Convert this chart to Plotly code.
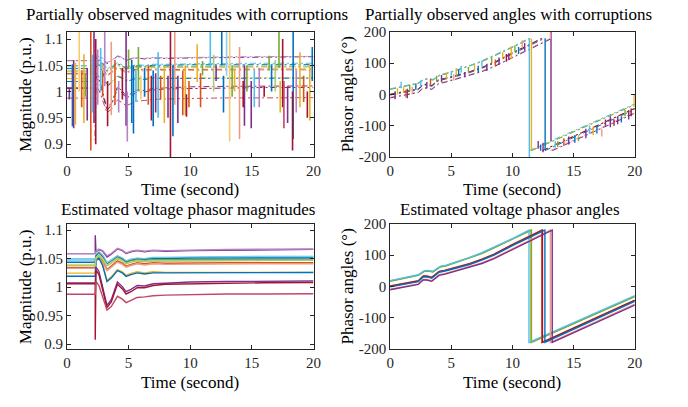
import plotly.graph_objects as go

# ---------------- palette (MATLAB default order + lighter variants) ----------------
PAL = {
    'B': '#0072BD', 'O': '#D95319', 'Y': '#EDB120', 'P': '#7E2F8E', 'G': '#77AC30',
    'C': '#4DBEEE', 'R': '#A2142F', 'LP': '#B583C4', 'LC': '#8AD2F2', 'LY': '#F5CB6E',
    'LO': '#EE9C80', 'LG': '#A7CC7A', 'LR': '#BF4864',
}

# ---------------- magnitudes (p.u.) ----------------
mag_t = [0, 2.3, 2.3, 2.36, 2.6, 2.9, 3.25, 3.6, 4.1, 4.5, 4.8, 5.2, 5.7, 6.3, 7.0, 8.0, 10, 13, 16, 20]
mag_bus00 = [1.0589, 1.0589, 1.0909, 1.062, 1.066, 1.063, 1.053, 1.058, 1.067, 1.064, 1.059, 1.062, 1.064, 1.062, 1.064, 1.063, 1.064, 1.065, 1.0656, 1.0663]
mag_bus01 = [1.0589, 1.0589, 1.0589, 1.063, 1.067, 1.064, 1.055, 1.059, 1.068, 1.065, 1.060, 1.063, 1.065, 1.063, 1.065, 1.064, 1.065, 1.066, 1.0665, 1.0670]
mag_bus02 = [1.0495, 1.0495, 1.0495, 1.058, 1.062, 1.056, 1.043, 1.048, 1.055, 1.051, 1.046, 1.049, 1.051, 1.050, 1.052, 1.052, 1.053, 1.0535, 1.054, 1.0539]
mag_bus03 = [1.0471, 1.0471, 1.0471, 1.057, 1.061, 1.055, 1.042, 1.047, 1.054, 1.050, 1.045, 1.048, 1.050, 1.049, 1.051, 1.051, 1.052, 1.0525, 1.053, 1.0530]
mag_bus04 = [1.0437, 1.0437, 1.0437, 1.055, 1.060, 1.053, 1.040, 1.045, 1.053, 1.049, 1.044, 1.047, 1.049, 1.048, 1.050, 1.050, 1.051, 1.051, 1.0512, 1.0512]
mag_bus05 = [1.0394, 1.0394, 1.0394, 1.052, 1.058, 1.051, 1.039, 1.044, 1.052, 1.048, 1.043, 1.046, 1.048, 1.047, 1.048, 1.048, 1.048, 1.0483, 1.0483, 1.0483]
mag_bus06 = [1.0400, 1.0400, 1.0400, 1.051, 1.057, 1.050, 1.038, 1.043, 1.050, 1.046, 1.041, 1.044, 1.046, 1.045, 1.046, 1.046, 1.046, 1.0465, 1.047, 1.0470]
mag_bus07 = [1.0343, 1.0343, 1.0343, 1.048, 1.054, 1.046, 1.031, 1.037, 1.046, 1.042, 1.037, 1.040, 1.043, 1.041, 1.043, 1.042, 1.0425, 1.0427, 1.0427, 1.0427]
mag_bus08 = [1.0330, 1.0330, 1.0330, 1.046, 1.052, 1.044, 1.029, 1.035, 1.044, 1.040, 1.035, 1.038, 1.041, 1.039, 1.041, 1.040, 1.0405, 1.041, 1.041, 1.0410]
mag_bus09 = [1.0247, 1.0247, 1.0247, 1.050, 1.053, 1.040, 1.012, 1.018, 1.031, 1.027, 1.021, 1.024, 1.027, 1.025, 1.027, 1.026, 1.026, 1.026, 1.026, 1.0259]
mag_bus10 = [1.0191, 1.0191, 1.0191, 1.047, 1.051, 1.038, 1.010, 1.016, 1.029, 1.025, 1.019, 1.022, 1.025, 1.023, 1.025, 1.025, 1.025, 1.0255, 1.0257, 1.0257]
mag_bus11 = [1.0073, 1.0073, 1.0073, 1.035, 1.028, 1.000, 0.968, 0.978, 1.009, 1.001, 0.992, 0.996, 1.003, 1.002, 1.006, 1.007, 1.009, 1.010, 1.0105, 1.0107]
mag_bus12 = [1.0060, 1.0060, 0.9076, 1.030, 1.022, 0.995, 0.964, 0.974, 1.005, 0.997, 0.988, 0.992, 0.999, 0.999, 1.003, 1.005, 1.006, 1.007, 1.0077, 1.0079]
mag_bus13 = [0.9876, 0.9876, 0.9876, 1.010, 1.003, 0.983, 0.960, 0.966, 0.984, 0.979, 0.973, 0.977, 0.982, 0.983, 0.985, 0.986, 0.987, 0.988, 0.988, 0.9885]
mag_bus14 = [1.0375, 1.0375, 1.0375, 1.050, 1.056, 1.049, 1.037, 1.042, 1.050, 1.046, 1.041, 1.044, 1.046, 1.045, 1.046, 1.046, 1.0465, 1.047, 1.047, 1.0470]
mag_buses = [mag_bus00, mag_bus01, mag_bus02, mag_bus03, mag_bus04, mag_bus05, mag_bus06, mag_bus07,
             mag_bus08, mag_bus09, mag_bus10, mag_bus11, mag_bus12, mag_bus13, mag_bus14]
mag_colors = ['P', 'LP', 'C', 'LC', 'B', 'G', 'LY', 'O', 'LO', 'Y', 'B', 'P', 'R', 'LR', 'LG']

# corrupted samples in the observed magnitudes: time, low end, high end, bus index
obs_mag_spike_t = [0.2, 0.45, 0.55, 0.69, 1.0, 1.2, 1.38, 1.5, 1.65, 1.94, 2.05, 2.2, 2.34, 2.5, 2.74, 2.9,
                   3.07, 3.3, 3.6, 3.9, 4.2, 4.5, 4.8, 4.9, 5.0, 5.26, 5.4, 5.6, 5.8, 6.0, 6.3, 6.6, 6.85,
                   7.0, 7.2, 7.4, 7.6, 7.9, 8.2, 8.4, 8.6, 8.75, 9.0, 9.4, 9.6, 9.7, 9.9, 10.57, 10.84,
                   11.0, 11.63, 11.9, 12.1, 12.56, 12.7, 12.95, 13.2, 13.4, 13.6, 14.0, 14.3, 14.4, 14.6,
                   14.95, 15.2, 15.6, 16.0, 16.4, 16.6, 16.9, 17.2, 17.3, 17.5, 17.6, 17.9, 18.3, 18.35,
                   18.6, 18.9, 19.2, 19.5, 19.7, 19.9]
obs_mag_spike_lo = [0.985, 0.934, 0.930, 0.937, 1.000, 0.970, 0.940, 0.990, 0.945, 0.888, 0.960, 0.940, 0.900,
                    0.975, 1.000, 0.990, 1.010, 0.934, 0.955, 0.975, 0.960, 0.985, 0.935, 0.905, 1.043, 0.940,
                    0.920, 0.980, 1.000, 0.985, 0.990, 0.975, 0.945, 0.934, 0.960, 0.950, 0.985, 0.940, 0.950,
                    0.870, 0.915, 0.975, 0.940, 0.955, 0.955, 0.952, 0.970, 1.018, 0.970, 1.031, 1.046, 1.000,
                    1.020, 1.050, 0.960, 1.030, 0.905, 0.990, 1.000, 0.910, 0.970, 0.935, 1.000, 0.930, 0.970,
                    0.970, 0.990, 1.040, 1.000, 1.000, 1.045, 0.960, 0.970, 0.930, 0.940, 0.888, 0.910, 0.960,
                    0.970, 0.980, 0.950, 0.945, 1.020]
obs_mag_spike_hi = [1.006, 1.052, 1.060, 1.055, 1.120, 1.040, 1.071, 1.035, 1.045, 1.120, 1.070, 1.120, 1.100,
                    1.080, 1.083, 1.040, 1.120, 1.020, 1.095, 1.060, 1.020, 1.045, 1.120, 1.000, 1.080, 1.060,
                    1.050, 1.040, 1.085, 1.030, 1.045, 1.050, 1.030, 1.040, 1.035, 1.075, 1.030, 1.045, 1.030,
                    1.120, 1.050, 1.120, 1.030, 1.040, 1.050, 0.995, 1.020, 1.090, 1.035, 1.058, 1.120, 1.070,
                    1.050, 1.120, 1.030, 1.120, 1.120, 1.050, 1.040, 1.085, 1.020, 1.050, 1.050, 1.020, 1.040,
                    1.045, 1.010, 1.068, 1.050, 1.060, 1.120, 1.020, 1.100, 1.020, 1.010, 1.000, 1.120, 1.040,
                    1.075, 1.030, 1.000, 1.050, 1.085]
obs_mag_spike_bus = [11, 4, 0, 9, 6, 7, 9, 5, 11, 7, 2, 0, 12, 1, 2, 7, 1, 12, 8, 7, 1, 12, 0, 1, 5, 4,
                     10, 2, 5, 6, 4, 7, 12, 10, 0, 2, 7, 9, 11, 12, 4, 8, 11, 7, 9, 12, 7, 9, 7, 5, 2, 14,
                     0, 4, 10, 3, 6, 5, 9, 8, 12, 11, 5, 0, 2, 1, 12, 5, 4, 14, 5, 9, 12, 13, 0, 12, 4, 1,
                     9, 7, 12, 9, 4]

# ---------------- angles (degrees) ----------------
ang_t_upper = [0, 2.0, 2.3, 2.8, 3.1, 3.5, 4.1, 4.6, 5.5, 6.5, 7.5, 8.5, 10.0]
ang_t_lower = [0, 2.0, 2.3, 2.7, 3.0, 3.4, 4.0, 4.5, 5.5, 6.5, 7.5, 8.5, 10.0]
ang_wrap_t = [11.35, 11.55, 11.5, 12.4, 12.45, 12.65, 13.1, 13.25]
ang_bus0 = [18, 33, 37, 50, 51, 48, 64, 68, 80, 92, 108, 126, 153, 180, -180, -30]
ang_bus1 = [16, 31, 35, 48, 49, 46, 62, 66, 78, 90, 105, 123, 150, 180, -180, -33]
ang_bus2 = [17, 32, 36, 49, 50, 47, 63, 67, 79, 91, 106, 124, 151, 180, -180, -32]
ang_bus3 = [1, 16, 18, 33, 33, 29, 48, 52, 63, 73, 87, 103, 134, 180, -180, -44]
ang_bus4 = [0, 15, 17, 32, 32, 28, 47, 51, 62, 72, 86, 102, 133, 180, -180, -45]
ang_bus5 = [-2, 13, 15, 30, 30, 26, 45, 49, 60, 70, 84, 100, 130, 180, -180, -48]
ang_bus6 = [-9, 6, 8, 22, 22, 18, 37, 41, 52, 62, 75, 91, 120, 180, -180, -57]
ang_bus7 = [-11, 4, 6, 20, 20, 16, 35, 39, 50, 60, 73, 89, 117, 180, -180, -60]
ang_buses = [ang_bus0, ang_bus1, ang_bus2, ang_bus3, ang_bus4, ang_bus5, ang_bus6, ang_bus7]
ang_group = ['upper', 'upper', 'upper', 'lower', 'lower', 'lower', 'lower', 'lower']
ang_colors = ['C', 'G', 'Y', 'O', 'R', 'B', 'LO', 'P']
ang_draw_order = [2, 1, 0, 6, 3, 4, 5, 7]

obs_ang_spike_t = [0.4, 0.6, 0.9, 1.1, 1.3, 1.4, 1.6, 1.8, 2.1, 2.5, 3.0, 3.3, 3.8, 4.2, 4.6, 5.0, 5.2,
                   5.4, 5.6, 5.8, 6.1, 6.4, 6.9, 7.2, 7.5, 7.9, 8.3, 8.6, 8.9, 9.2, 9.5, 9.7, 9.9, 10.2,
                   10.5, 10.8, 11.0, 11.38, 11.55, 12.67, 13.1, 13.15, 12.1, 12.3, 12.5, 13.5, 13.7, 14.2,
                   14.6, 15.1, 15.4, 16.0, 16.3, 16.6, 16.9, 17.3, 17.6, 18.0, 18.3, 18.6, 18.9, 19.2,
                   19.5, 19.7, 19.95]
obs_ang_spike_lo = [-15, 0, 20, 5, -10, -12, 10, 0, 15, 25, 20, 30, 40, 40, 50, 60, 45, 60, 58, 70, 55, 70,
                    75, 72, 90, 75, 100, 90, 95, 115, 105, 110, 113, 135, 130, 150, 140, -205, -178, -178,
                    178, -150, -174, -180, -185, -170, -168, -165, -160, -155, -150, -140, -125, -130,
                    -125, -135, -100, -105, -100, -95, -90, -70, -80, -70, -40]
obs_ang_spike_hi = [10, 20, 41, 25, 15, 18, 30, 25, 35, 45, 40, 50, 60, 62, 70, 75, 65, 85, 80, 92, 72, 88,
                    95, 92, 108, 98, 118, 112, 118, 135, 130, 132, 154, 158, 152, 174, 165, 180, 178, 180,
                    198, 205, -149, -160, -155, -150, -150, -140, -135, -130, -135, -110, -100, -105, -100,
                    -110, -80, -70, -80, -70, -70, -50, -50, -45, 0]
obs_ang_spike_bus = [7, 2, 0, 2, 3, 7, 1, 6, 5, 0, 7, 3, 1, 7, 2, 0, 6, 2, 5, 0, 7, 1, 2, 5, 0, 7, 1, 3,
                     7, 2, 4, 7, 2, 1, 5, 6, 7, 0, 2, 5, 6, 7, 7, 5, 7, 0, 1, 3, 7, 5, 1, 7, 0, 2, 5, 6,
                     7, 7, 4, 7, 5, 1, 7, 4, 2]

# ---------------- figure ----------------
W, H = 688, 407
FONT = 'Liberation Serif'
fig = go.Figure()


def px_x(x):
    return x / W


def px_y(y):
    return 1 - y / H


panels = {
    1: dict(x=(64, 315), y=(25, 155), yr=[0.8757, 1.1133]),
    2: dict(x=(393, 642), y=(25, 155), yr=[-200, 200]),
    3: dict(x=(64, 315), y=(224.7, 354.7), yr=[0.892, 1.111]),
    4: dict(x=(393, 642), y=(224.7, 354.7), yr=[-200, 200]),
}
axis_col = '#262626'
tickfont = dict(family=FONT, size=15, color=axis_col)
for k, p in panels.items():
    s = '' if k == 1 else str(k)
    mag = k in (1, 3)
    fig.update_layout(**{
        'xaxis' + s: dict(domain=[px_x(p['x'][0]), px_x(p['x'][1])], anchor='y' + s, range=[0, 20],
                          tickvals=[0, 5, 10, 15, 20], ticks='inside', ticklen=4, tickwidth=0.8,
                          tickcolor=axis_col, showline=True, linecolor=axis_col, linewidth=0.8,
                          mirror='ticks', showgrid=False, zeroline=False, tickfont=tickfont),
        'yaxis' + s: dict(domain=[px_y(p['y'][1]), px_y(p['y'][0])], anchor='x' + s, range=p['yr'],
                          tickvals=[0.9, 0.95, 1, 1.05, 1.1] if mag else [-200, -100, 0, 100, 200],
                          ticktext=['0.9', '0.95', '1', '1.05', '1.1'] if mag else ['-200', '-100', '0', '100', '200'],
                          ticks='inside', ticklen=4, tickwidth=0.8, tickcolor=axis_col, showline=True,
                          linecolor=axis_col, linewidth=0.8, mirror='ticks', showgrid=False,
                          zeroline=False, tickfont=tickfont),
    })

DASH = '6px,3px,2px,3px'


def add_spikes(ts, los, his, buses, colors, xa, ya, width):
    groups = {}
    for t, lo, hi, b in zip(ts, los, his, buses):
        xs, ys = groups.setdefault(b, ([], []))
        xs += [t, t, None]
        ys += [lo, hi, None]
    for b, (xs, ys) in groups.items():
        fig.add_trace(go.Scatter(x=xs, y=ys, mode='lines', xaxis=xa, yaxis=ya, showlegend=False,
                                 hoverinfo='skip', line=dict(color=PAL[colors[b]], width=width)))


# panel 1: observed magnitudes (dash-dot base + corruptions)
for vals, c in zip(mag_buses, mag_colors):
    fig.add_trace(go.Scatter(x=mag_t, y=vals, mode='lines', xaxis='x', yaxis='y', showlegend=False,
                             line=dict(color=PAL[c], width=1, dash=DASH)))
add_spikes(obs_mag_spike_t, obs_mag_spike_lo, obs_mag_spike_hi, obs_mag_spike_bus, mag_colors, 'x', 'y', 1.6)

# panel 3: estimated magnitudes
for vals, c in zip(mag_buses, mag_colors):
    fig.add_trace(go.Scatter(x=mag_t, y=vals, mode='lines', xaxis='x3', yaxis='y3', showlegend=False,
                             line=dict(color=PAL[c], width=1.4)))


def ang_times(i):
    base = ang_t_upper if ang_group[i] == 'upper' else ang_t_lower
    return base + [ang_wrap_t[i], ang_wrap_t[i], 20]


# panel 2: observed angles (dash-dot, broken at the wrap)
for i in ang_draw_order:
    vals, c = ang_buses[i], ang_colors[i]
    t = ang_times(i)
    xs, ys = [], []
    for j in range(len(t)):
        if j > 0 and t[j] == t[j - 1]:
            xs.append(None)
            ys.append(None)
        xs.append(t[j])
        ys.append(vals[j])
    fig.add_trace(go.Scatter(x=xs, y=ys, mode='lines', xaxis='x2', yaxis='y2', showlegend=False,
                             line=dict(color=PAL[c], width=1, dash=DASH)))
add_spikes(obs_ang_spike_t, obs_ang_spike_lo, obs_ang_spike_hi, obs_ang_spike_bus, ang_colors, 'x2', 'y2', 1.4)

# panel 4: estimated angles
for i in ang_draw_order:
    fig.add_trace(go.Scatter(x=ang_times(i), y=ang_buses[i], mode='lines', xaxis='x4', yaxis='y4',
                             showlegend=False, line=dict(color=PAL[ang_colors[i]], width=1.4)))

# texts
txt_font = dict(family=FONT, size=17, color='#000000')
texts = [
    ('Partially observed magnitudes with corruptions', 186, 7, 0),
    ('Partially observed angles with corruptions', 513, 7, 0),
    ('Estimated voltage phasor magnitudes', 187, 210, 0),
    ('Estimated voltage phasor angles', 515, 210, 0),
    ('Time (second)', 189, 189, 0),
    ('Time (second)', 517, 189, 0),
    ('Time (second)', 189, 390, 0),
    ('Time (second)', 517, 390, 0),
    ('Magnitude (p.u.)', 22, 90, -90),
    ('Phasor angles (°)', 350, 90, -90),
    ('Magnitude (p.u.)', 22, 290, -90),
    ('Phasor angles (°)', 350, 290, -90),
]
for s, x, y, rot in texts:
    fig.add_annotation(text=s, x=px_x(x), y=px_y(y), xref='paper', yref='paper', showarrow=False,
                       xanchor='center', yanchor='middle', textangle=rot, font=txt_font, borderpad=0)

fig.update_layout(width=W, height=H, autosize=False, margin=dict(l=0, r=0, t=0, b=0),
                  paper_bgcolor='white', plot_bgcolor='white', showlegend=False)

fig.write_html("out.html", config={'displayModeBar': False},
               post_script="document.body.style.margin='0px';")
